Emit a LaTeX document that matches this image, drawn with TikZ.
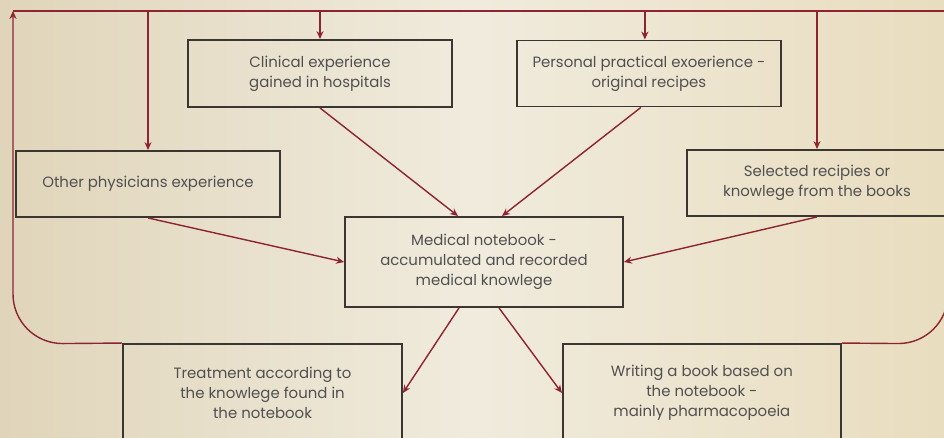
\documentclass[tikz,border=0pt]{standalone}
\usepackage{fontspec}
\setmainfont{Poppins}
\usepackage{tikz}
\usetikzlibrary{arrows.meta}
\usetikzlibrary{calc}
\usetikzlibrary{positioning}
\definecolor{paperL}{HTML}{E0D5BA}
\definecolor{paperM}{HTML}{F0EBDD}
\definecolor{paperR}{HTML}{E9DDBF}
\definecolor{boxline}{HTML}{3B3631}
\definecolor{boxtext}{HTML}{505050}
\definecolor{flow}{HTML}{8E2431}

\begin{document}
\begin{tikzpicture}[x=0.02cm,y=-0.02cm,
        box/.style={draw=boxline, line width=1.1pt, inner sep=0pt, align=center,
            text=boxtext, font=\fontsize{8.5}{11.3}\selectfont,
            minimum width=5.28cm, minimum height=1.32cm},
        arr/.style={draw=flow, line width=0.8pt, -{Stealth[length=4.5pt,width=4pt]}},
        loop/.style={draw=flow, line width=0.8pt}]
        \useasboundingbox (0,0) rectangle (944,438);
        \shade[left color=paperL, right color=paperR, middle color=paperM] (0,0) rectangle (944,438);
        \clip (0,0) rectangle (944,438);

        \node[box, minimum height=1.34cm] (clin) at (320,73.5) {Clinical experience\\gained in hospitals};
        \node[box, right=1.26cm of clin] (pers) {Personal practical exoerience -\\original recipes};
        \node[box] (other) at (148,184) {Other physicians experience};
        \node[box, minimum width=5.2cm] (sel) at (817,183) {Selected recipies or\\knowlege from the books};
        \node[box, minimum width=5.56cm, minimum height=1.8cm] (med) at (484,262) {Medical notebook -\\accumulated and recorded\\medical knowlege};
        \node[box, minimum width=5.58cm, minimum height=1.96cm] (treat) at (262.5,393) {Treatment according to\\the knowlege found in\\the notebook};
        \node[box, minimum width=5.56cm, minimum height=1.96cm, right=3.18cm of treat] (writ) {Writing a book based on\\the notebook -\\mainly pharmacopoeia};

        \coordinate (topL) at (13,11);
        \coordinate (topR) at (948,11);

        \draw[loop] (topL) -- (topR);
        \draw[arr, rounded corners=1cm] (treat.north west) -- (13,344) -- (topL);
        \draw[loop, rounded corners=1cm] (writ.north east) -- (948,344) -- (topR);

        \draw[arr] (other.north |- topL) -- (other.north);
        \draw[arr] (clin.north |- topL) -- (clin.north);
        \draw[arr] ($(pers.north |- topL)+(-4,0)$) -- ($(pers.north)+(-4,0)$);
        \draw[arr] (sel.north |- topL) -- (sel.north);

        \draw[arr] (clin.south) -- ($(med.north)+(-26,0)$);
        \draw[arr] ($(pers.south)+(-8,0)$) -- ($(med.north)+(18,0)$);
        \draw[arr] (other.south) -- (med.west);
        \draw[arr] (sel.south) -- (med.east);

        \draw[arr] ($(med.south)+(-25,0)$) -- (treat.east);
        \draw[arr] ($(med.south)+(15,0)$) -- (writ.west);
\end{tikzpicture}
\end{document}
